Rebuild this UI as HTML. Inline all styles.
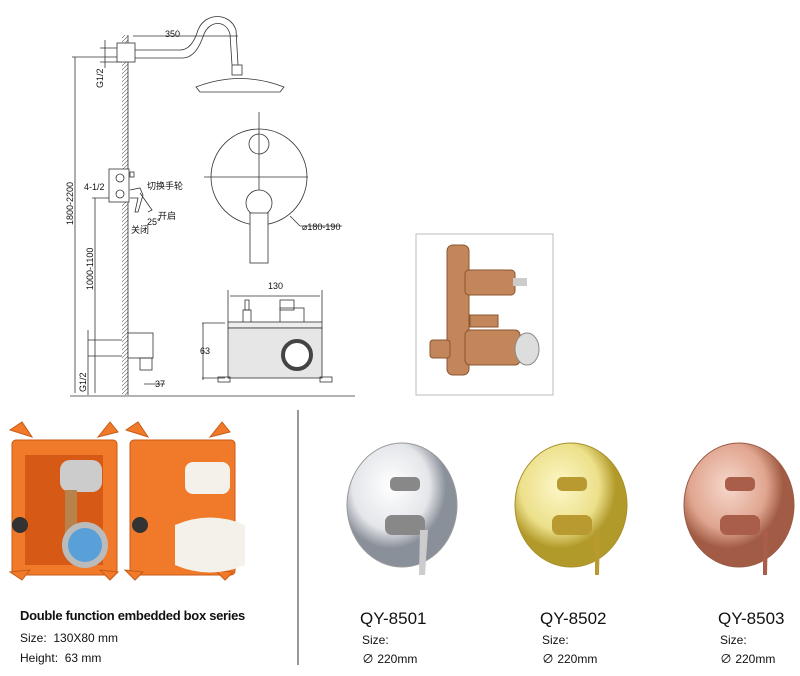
<!DOCTYPE html>
<html><head><meta charset="utf-8"><style>
body{margin:0;background:#fff;width:800px;height:676px;overflow:hidden;position:relative;font-family:"Liberation Sans","Noto Sans CJK SC",sans-serif}
.t{position:absolute;white-space:nowrap;color:#111}
</style></head><body>
<svg width="800" height="676" style="position:absolute;left:0;top:0" font-family="Liberation Sans, Noto Sans CJK SC, sans-serif">
<defs>
<pattern id="h" width="4" height="4" patternUnits="userSpaceOnUse"><path d="M0 4L4 0" stroke="#555" stroke-width="0.6"/></pattern>
<radialGradient id="gs" cx="40%" cy="35%"><stop offset="0" stop-color="#fff"/><stop offset="0.7" stop-color="#e4e6ea"/><stop offset="1" stop-color="#8a9099"/></radialGradient>
<radialGradient id="gg" cx="40%" cy="35%"><stop offset="0" stop-color="#fdf7c8"/><stop offset="0.7" stop-color="#ece08a"/><stop offset="1" stop-color="#b29a2a"/></radialGradient>
<radialGradient id="gr" cx="40%" cy="35%"><stop offset="0" stop-color="#f7d8cc"/><stop offset="0.7" stop-color="#e0a58f"/><stop offset="1" stop-color="#a25c45"/></radialGradient>
</defs>
<g stroke="#333" stroke-width="0.8" fill="none">
<!-- wall -->
<rect x="122" y="35" width="6" height="360" fill="url(#h)" stroke="none"/>
<line x1="128" y1="35" x2="128" y2="395"/>
<line x1="70" y1="396" x2="355" y2="396"/>
<!-- dims -->
<line x1="75" y1="57" x2="75" y2="393"/><line x1="72" y1="57" x2="120" y2="57"/>
<line x1="95" y1="198" x2="95" y2="393"/><line x1="92" y1="198" x2="118" y2="198"/>
<line x1="105" y1="40" x2="105" y2="68"/><line x1="100" y1="48" x2="122" y2="48"/><line x1="100" y1="62" x2="122" y2="62"/>
<line x1="88" y1="330" x2="88" y2="395"/><line x1="88" y1="340" x2="122" y2="340"/><line x1="88" y1="356" x2="122" y2="356"/>
<line x1="133" y1="36" x2="238" y2="36"/>
<line x1="144" y1="384" x2="165" y2="384"/>
<!-- shower arm -->
<rect x="117" y="43" width="18" height="19" fill="#fff"/>
<path d="M135 50 L180 50 C190 50 195 40 198 30 C205 12 230 12 236 30 L238 65"/>
<path d="M135 58 L182 58 C194 58 200 46 204 34 C210 20 226 20 230 34 L232 65"/>
<rect x="232" y="65" width="10" height="10"/>
<path d="M196 87 Q240 70 284 87 L280 92 L200 92 Z"/>
<!-- switch box -->
<rect x="109" y="169" width="20" height="33" fill="#fff"/>
<circle cx="120" cy="178" r="4"/><circle cx="120" cy="194" r="4"/>
<rect x="130" y="172" width="4" height="5"/>
<path d="M130 190 L140 188 L143 195 L138 212 L135 212 L138 198 L130 198"/>
<path d="M140 193 L152 210 L148 212"/>
<!-- valve front -->
<circle cx="259" cy="177" r="48"/>
<line x1="204" y1="177" x2="308" y2="177"/><line x1="259" y1="112" x2="259" y2="225"/>
<circle cx="259" cy="144" r="10"/>
<circle cx="259" cy="203" r="13" fill="#fff"/>
<rect x="250" y="213" width="18" height="50" fill="#fff"/>
<line x1="290" y1="216" x2="300" y2="226"/><line x1="300" y1="226" x2="342" y2="226"/>
<!-- box -->
<line x1="228" y1="290" x2="228" y2="322"/><line x1="322" y1="290" x2="322" y2="322"/>
<line x1="230" y1="296" x2="320" y2="296"/>
<rect x="245" y="300" width="4" height="10"/><rect x="243" y="310" width="8" height="13"/>
<rect x="280" y="300" width="14" height="10"/><rect x="280" y="308" width="24" height="15"/>
<rect x="228" y="322" width="94" height="6" fill="#eee"/>
<rect x="228" y="328" width="94" height="50" fill="#e6e6e6"/>
<rect x="218" y="377" width="12" height="5"/><rect x="320" y="377" width="12" height="5"/>
<circle cx="297" cy="355" r="14" fill="#fff" stroke="#444" stroke-width="4"/>
<line x1="202" y1="323" x2="225" y2="323"/><line x1="202" y1="378" x2="225" y2="378"/>
<line x1="203" y1="323" x2="203" y2="380"/>
<!-- wall outlet -->
<rect x="128" y="333" width="25" height="25" fill="#fff"/>
<rect x="140" y="358" width="12" height="12"/>
<line x1="298" y1="410" x2="298" y2="665" stroke="#555" stroke-width="1.2"/>
</g>
<g font-size="9" fill="#111">
<text x="165" y="37">350</text>
<text x="84" y="190">4-1/2</text>
<text x="147" y="189">切换手轮</text>
<text x="158" y="219">开启</text>
<text x="147" y="225">25°</text>
<text x="131" y="233">关闭</text>
<text x="302" y="230">⌀180-190</text>
<text x="268" y="289">130</text>
<text x="200" y="354">63</text>
<text x="155" y="387">37</text>
<text transform="translate(73,225) rotate(-90)">1800-2200</text>
<text transform="translate(93,290) rotate(-90)">1000-1100</text>
<text transform="translate(103,88) rotate(-90)">G1/2</text>
<text transform="translate(86,392) rotate(-90)">G1/2</text>
</g>
<!-- brass photo -->
<rect x="416" y="234" width="137" height="161" fill="#fff" stroke="#bbb"/>
<g fill="#c2865a" stroke="#8a5530" stroke-width="1">
<rect x="447" y="245" width="22" height="130" rx="6"/>
<rect x="465" y="270" width="50" height="25" rx="4"/>
<rect x="465" y="330" width="55" height="35" rx="5"/>
<rect x="430" y="340" width="20" height="18" rx="3"/>
<rect x="470" y="315" width="28" height="12"/>
</g>
<ellipse cx="527" cy="349" rx="12" ry="16" fill="#ddd" stroke="#888"/>
<rect x="513" y="278" width="14" height="8" fill="#ccc"/>
<!-- orange boxes -->
<g fill="#f07a2a" stroke="#c85a14">
<rect x="12" y="440" width="105" height="135" rx="4"/>
<rect x="130" y="440" width="105" height="135" rx="4"/>
<path d="M10 430 l12 -8 l10 15 z M98 437 l12 -15 l8 10 z M10 572 l12 8 l8 -10 z M100 570 l10 10 l8 -8z"/>
<path d="M126 430 l12 -8 l10 15 z M210 437 l12 -15 l8 10 z M125 570 l10 10 l8 -8 z M215 570 l10 10 l8 -8z"/>
</g>
<rect x="25" y="455" width="78" height="110" fill="#d65a16"/>
<rect x="60" y="460" width="42" height="32" rx="10" fill="#ccc"/>
<rect x="65" y="490" width="12" height="60" fill="#b9824a"/>
<circle cx="85" cy="545" r="20" fill="#5aa0d8" stroke="#bbb" stroke-width="6"/>
<circle cx="20" cy="525" r="8" fill="#333"/><circle cx="140" cy="525" r="8" fill="#333"/>
<rect x="185" y="462" width="45" height="32" rx="8" fill="#f4f1ea"/>
<path d="M175 525 q35 -15 70 0 v40 q-35 15 -70 0z" fill="#f4f1ea"/>
<!-- plates -->
<ellipse cx="402" cy="505" rx="55" ry="62" fill="url(#gs)" stroke="#999"/>
<ellipse cx="571" cy="505" rx="56" ry="62" fill="url(#gg)" stroke="#a8902a"/>
<ellipse cx="739" cy="505" rx="55" ry="62" fill="url(#gr)" stroke="#9a5a45"/>
<g fill="#888"><rect x="390" y="477" width="30" height="14" rx="5"/><rect x="385" y="515" width="40" height="20" rx="7"/><path d="M420 530 l8 0 l-3 45 l-6 0z" fill="#ccc"/></g>
<g fill="#b89a30"><rect x="557" y="477" width="30" height="14" rx="5"/><rect x="552" y="515" width="40" height="20" rx="7"/><path d="M595 530 l5 0 l-1 45 l-4 0z"/></g>
<g fill="#a85e48"><rect x="725" y="477" width="30" height="14" rx="5"/><rect x="720" y="515" width="40" height="20" rx="7"/><path d="M763 530 l5 0 l-1 45 l-4 0z"/></g>
</svg>
<div class="t" style="left:20px;top:608px;font-size:13px;font-weight:bold;letter-spacing:-0.3px">Double function embedded box series</div>
<div class="t" style="left:20px;top:631px;font-size:12px">Size:&nbsp; 130X80 mm</div>
<div class="t" style="left:20px;top:651px;font-size:12px">Height:&nbsp; 63 mm</div>
<div class="t" style="left:360px;top:609px;font-size:17px">QY-8501</div>
<div class="t" style="left:362px;top:633px;font-size:12px">Size:</div>
<div class="t" style="left:362px;top:650px;font-size:12px">∅ 220mm</div>
<div class="t" style="left:540px;top:609px;font-size:17px">QY-8502</div>
<div class="t" style="left:542px;top:633px;font-size:12px">Size:</div>
<div class="t" style="left:542px;top:650px;font-size:12px">∅ 220mm</div>
<div class="t" style="left:718px;top:609px;font-size:17px">QY-8503</div>
<div class="t" style="left:720px;top:633px;font-size:12px">Size:</div>
<div class="t" style="left:720px;top:650px;font-size:12px">∅ 220mm</div>
</body></html>
